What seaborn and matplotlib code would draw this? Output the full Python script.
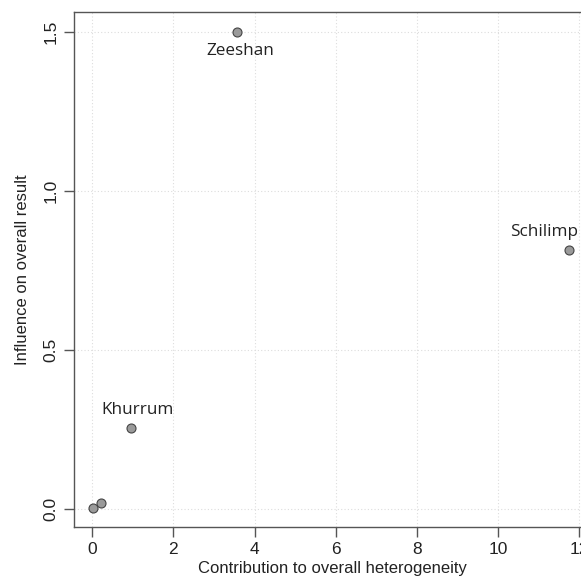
import numpy as np
import pandas as pd
import seaborn as sns
import matplotlib.pyplot as plt

# baujat plot values
studies = ['', '', 'Khurrum', 'Zeeshan', 'Schilimp']
heterogeneity = [0.02, 0.22, 0.96, 3.56, 11.75]
influence = [0.004, 0.019, 0.253, 1.50, 0.815]

df = pd.DataFrame({'study': studies, 'het': heterogeneity, 'infl': influence})

sns.set_style('white')
plt.rcParams['font.family'] = ['Liberation Sans', 'DejaVu Sans']

fig = plt.figure(figsize=(5.81, 5.84), dpi=100)
ax = fig.add_axes([0.1274, 0.0976, 0.888, 0.882])

sns.scatterplot(data=df, x='het', y='infl', ax=ax, s=42, color='#9a9a9a',
                edgecolor='#444444', linewidth=0.8, zorder=3)

ax.set_xlim(-0.45, 12.27)
ax.set_ylim(-0.057, 1.563)
ax.set_xticks([0, 2, 4, 6, 8, 10, 12])
ax.set_yticks([0.0, 0.5, 1.0, 1.5])
ax.set_yticklabels(['0.0', '0.5', '1.0', '1.5'], rotation=90, va='center')
ax.grid(True, color='#dddddd', linestyle=(0, (1, 2)), linewidth=0.8)
ax.set_axisbelow(True)

for s in ax.spines.values():
    s.set_color('#555555')
    s.set_linewidth(1.0)
ax.tick_params(axis='both', direction='out', length=7, width=1.0, color='#555555',
               labelsize=12.5, labelcolor='#222222', pad=4, left=True, bottom=True)

ax.set_xlabel('Contribution to overall heterogeneity', fontsize=12, color='#222222', labelpad=3)
ax.set_ylabel('Influence on overall result', fontsize=12, color='#222222', labelpad=10)

# study labels
lab_font = ['Open Sans', 'DejaVu Sans']
ax.text(3.65, 1.44, 'Zeeshan', ha='center', va='center', fontsize=12.3, family=lab_font, color='#222222')
ax.text(1.12, 0.31, 'Khurrum', ha='center', va='center', fontsize=12.3, family=lab_font, color='#222222')
ax.text(11.15, 0.87, 'Schilimp', ha='center', va='center', fontsize=12.3, family=lab_font, color='#222222')

fig.savefig('out.png', dpi=100)
